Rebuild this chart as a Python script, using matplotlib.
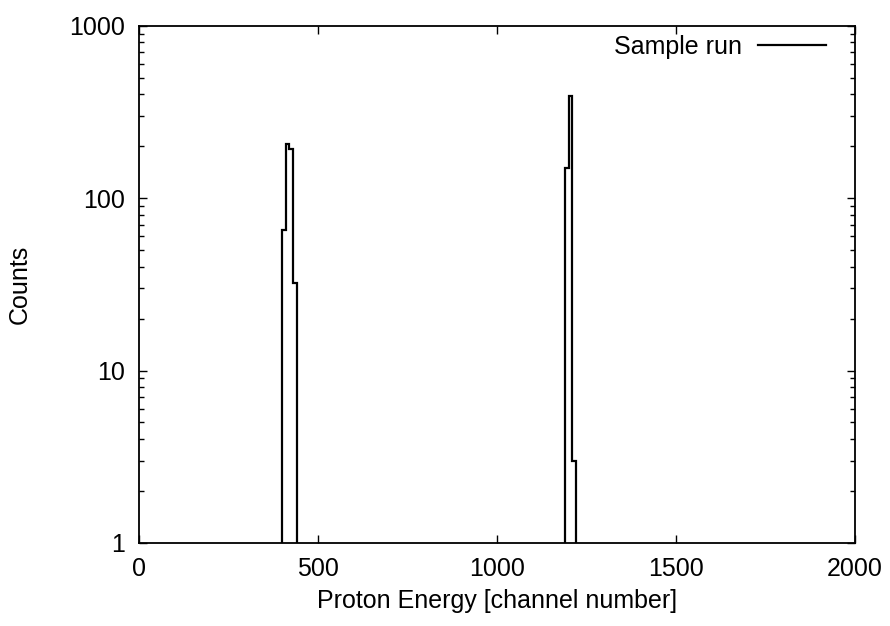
import numpy as np
import matplotlib
matplotlib.use("Agg")
import matplotlib.pyplot as plt
from matplotlib.ticker import FixedLocator, NullFormatter

plt.rcParams['font.family'] = ['Liberation Sans', 'DejaVu Sans']

# histogram data (channel bin edges and counts)
edges1 = [400, 410, 420, 430, 440]
counts1 = [65, 205, 192, 32]
edges2 = [1190, 1200, 1210, 1220]
counts2 = [150, 390, 3]

xticks = [0, 500, 1000, 1500, 2000]
yticks = [1, 10, 100, 1000]

fig = plt.figure(figsize=(8.9, 6.26), dpi=100)
ax = fig.add_axes([0.1562, 0.1326, 0.8045, 0.8264])

ax.stairs(counts1, edges1, baseline=0.1, color='black', lw=1.6, label='Sample run')
ax.stairs(counts2, edges2, baseline=0.1, color='black', lw=1.6)

ax.set_yscale('log')
ax.set_xlim(0, 2000)
ax.set_ylim(1, 1000)

ax.set_xticks(xticks)
ax.set_xticklabels([str(t) for t in xticks])
ax.set_yticks(yticks)
ax.set_yticklabels([str(t) for t in yticks])
minor = [m * 10**d for d in range(3) for m in range(2, 10)]
ax.yaxis.set_minor_locator(FixedLocator(minor))
ax.yaxis.set_minor_formatter(NullFormatter())
ax.xaxis.set_minor_locator(FixedLocator([]))

ax.tick_params(which='both', direction='in', top=True, right=True,
               labelsize=18, width=1.0, pad=10)
ax.tick_params(which='major', length=6)
ax.tick_params(which='minor', length=3.5)
for s in ax.spines.values():
    s.set_linewidth(1.3)

ax.set_xlabel('Proton Energy [channel number]', fontsize=18, labelpad=6)
ax.set_ylabel('Counts', fontsize=18, labelpad=27)

ax.legend(loc='upper right', bbox_to_anchor=(0.9595, 0.982), frameon=False,
          markerfirst=False, fontsize=18, handlelength=2.72,
          borderaxespad=0, borderpad=0, handletextpad=0.64)

fig.savefig('out.png', dpi=100)
